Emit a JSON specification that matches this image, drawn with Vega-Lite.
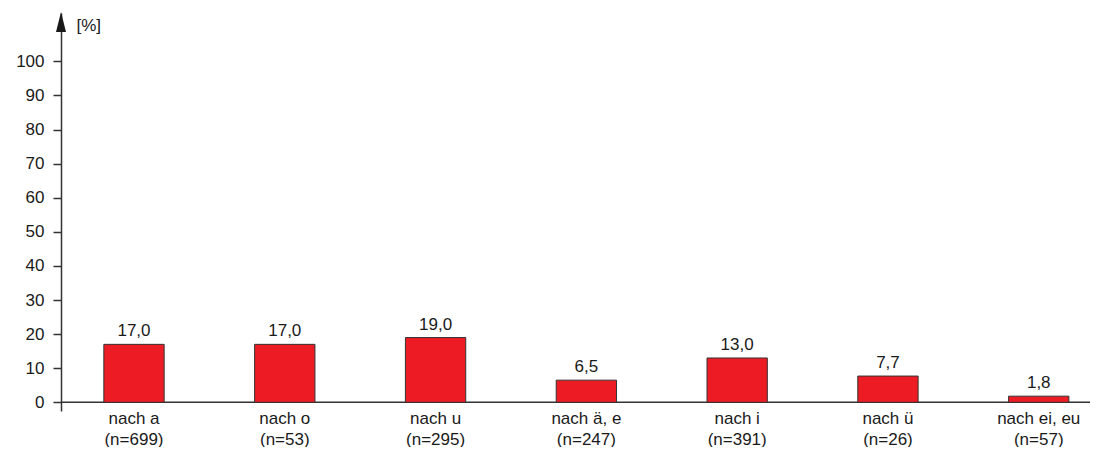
{
  "$schema": "https://vega.github.io/schema/vega-lite/v6.json",
  "width": 1029,
  "height": 398,
  "padding": {"left": 15, "top": 12, "right": 5, "bottom": 0},
  "config": {
    "locale": {"number": {"decimal": ",", "thousands": ".", "grouping": [3], "currency": ["", " €"]}},
    "view": {"stroke": null},
    "font": "Liberation Sans",
    "axis": {"labelFont": "Liberation Sans", "labelFontSize": 17, "labelColor": "#1a1a1a", "domainColor": "#333333", "tickColor": "#333333", "grid": false},
    "axisY": {"tickSize": 8, "tickWidth": 1.5, "domainWidth": 1.5, "labelPadding": 9,
      "titleAngle": 0, "titleAlign": "left", "titleBaseline": "alphabetic", "titleX": 15, "titleY": 17,
      "titleFont": "Liberation Sans", "titleFontSize": 17, "titleFontWeight": "normal", "titleColor": "#1a1a1a"}
  },
  "data": {"values": [
    {"cat": "nach a|(n=699)", "pct": 17.0},
    {"cat": "nach o|(n=53)", "pct": 17.0},
    {"cat": "nach u|(n=295)", "pct": 19.0},
    {"cat": "nach ä, e|(n=247)", "pct": 6.5},
    {"cat": "nach i|(n=391)", "pct": 13.0},
    {"cat": "nach ü|(n=26)", "pct": 7.7},
    {"cat": "nach ei, eu|(n=57)", "pct": 1.8}
  ]},
  "layer": [
    {"data": {"values": [{}]}, "mark": {"type": "rule", "color": "#333333", "strokeWidth": 1.5},
      "encoding": {"y": {"datum": 0, "type": "quantitative", "axis": {"title": "[%]", "values": [0, 10, 20, 30, 40, 50, 60, 70, 80, 90, 100]}}}},
    {"mark": {"type": "bar", "fill": "#ED1C24", "stroke": "#333333", "strokeWidth": 1},
      "encoding": {
        "x": {"field": "cat", "type": "nominal", "sort": null,
          "scale": {"paddingInner": 0.6, "paddingOuter": 0.212, "align": 0.67},
          "axis": {"title": null, "domain": false, "ticks": false, "labelAngle": 0, "labelPadding": -1, "labelLineHeight": 21, "labelExpr": "split(datum.value, '|')"}},
        "y": {"field": "pct", "type": "quantitative",
          "scale": {"domain": [-2.55, 114.2], "nice": false, "zero": false},
          "axis": {"title": "[%]", "values": [0, 10, 20, 30, 40, 50, 60, 70, 80, 90, 100]}},
        "y2": {"datum": 0}}},
    {"mark": {"type": "text", "fontSize": 17, "dy": -8, "baseline": "alphabetic", "color": "#1a1a1a"},
      "encoding": {
        "x": {"field": "cat", "type": "nominal", "sort": null},
        "y": {"field": "pct", "type": "quantitative", "axis": {"title": "[%]", "values": [0, 10, 20, 30, 40, 50, 60, 70, 80, 90, 100]}},
        "text": {"field": "pct", "type": "quantitative", "format": ".1f"}}},
    {"data": {"values": [{"tip": 108.6}]}, "mark": {"type": "point", "shape": "M0,-1L0.25,0L-0.25,0Z", "size": 1600, "filled": true, "opacity": 1, "color": "#1a1a1a", "clip": false},
      "encoding": {"x": {"value": 0}, "y": {"field": "tip", "type": "quantitative", "axis": {"title": "[%]", "values": [0, 10, 20, 30, 40, 50, 60, 70, 80, 90, 100]}}}}
  ]
}
